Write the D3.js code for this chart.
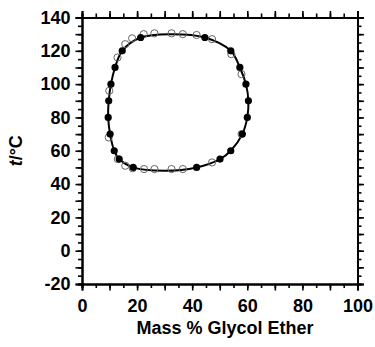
<!DOCTYPE html>
<html>
<head>
<meta charset="utf-8">
<script src="https://cdn.jsdelivr.net/npm/d3@7"></script>
<style>
  html, body { margin: 0; padding: 0; background: #fff; }
  svg { display: block; }
  text { font-family: "Liberation Sans", Arial, sans-serif; font-weight: bold; }
</style>
</head>
<body>
<svg id="chart" width="375" height="347"></svg>
<script>
// Binodal (cloud-point) data: mass % glycol ether vs temperature in °C
const filledMass = [21.3, 14.6, 12.0, 10.5, 9.7, 9.5, 10.2, 11.7, 13.5, 18.6, 41.6, 50.1, 54.0, 58.2, 60.0, 60.4, 59.5, 57.3, 54.0, 44.6];
const filledTemp = [128, 120, 110, 100, 90, 80, 70, 60, 55, 50, 50, 55, 60, 70, 80, 90, 100, 110, 120, 128];

const openMass = [9.9, 12.9, 15.7, 18.2, 22.4, 26.3, 32.5, 36.6, 41.6, 47.2, 54.2, 57.9,
                  9.7, 13.0, 15.7, 18.4, 22.5, 26.3, 32.5, 36.6, 47.2, 57.9];
const openTemp = [96, 116, 124, 127.5, 130, 130.5, 130.5, 130, 129.5, 127, 118, 106,
                  68, 55, 51, 49.5, 49, 49, 49, 49, 53, 70];

// Smoothed coexistence curve, traced around the loop
const curveMass = [9.5, 9.7, 10.5, 12.0, 14.6, 21.3, 32, 44.6, 54.0, 57.3, 59.5, 60.4, 60.0, 58.2, 54.0, 50.1, 41.6, 30, 18.6, 13.5, 11.7, 10.2];
const curveTemp = [80, 90, 100, 110, 120, 128, 130, 128, 120, 110, 100, 90, 80, 70, 60, 55, 50, 48, 50, 55, 60, 70];

const xTicks = [0, 20, 40, 60, 80, 100];
const yTicks = [-20, 0, 20, 40, 60, 80, 100, 120, 140];

const svg = d3.select("#chart");
const plotL = 82, plotR = 357.5, plotT = 17.5, plotB = 284;

const x = d3.scaleLinear().domain([0, 100]).range([plotL, plotR]);
const y = d3.scaleLinear().domain([-20, 140]).range([plotB, plotT]);

const fmtX = d => (xTicks.includes(d) ? String(d) : "");
const fmtY = d => (yTicks.includes(d) ? String(d) : "");

function drawAxis(axisGen, tx, ty) {
  const g = svg.append("g").attr("transform", `translate(${tx},${ty})`).call(axisGen);
  g.select(".domain").attr("stroke", "#000").attr("stroke-width", 2);
  g.selectAll(".tick line").attr("stroke", "#000").attr("stroke-width", 1.6);
  g.selectAll(".tick text").attr("fill", "#000").style("font-size", "18px").style("font-weight", "bold")
    .style("font-family", '"Liberation Sans", Arial, sans-serif');
  // drop empty label nodes so only the drawn labels remain
  g.selectAll(".tick text").filter(function () { return this.textContent === ""; }).remove();
  return g;
}

const xMinor = d3.range(0, 101, 5), xMajor = d3.range(0, 101, 10);
const yMinor = d3.range(-20, 141, 5), yMajor = d3.range(-20, 141, 10);

// minor ticks
drawAxis(d3.axisBottom(x).tickValues(xMinor).tickSize(4).tickFormat(""), 0, plotB);
drawAxis(d3.axisTop(x).tickValues(xMinor).tickSize(4).tickFormat(""), 0, plotT);
drawAxis(d3.axisLeft(y).tickValues(yMinor).tickSize(4).tickFormat(""), plotL, 0);
drawAxis(d3.axisRight(y).tickValues(yMinor).tickSize(4).tickFormat(""), plotR, 0);

// major ticks with labels
drawAxis(d3.axisBottom(x).tickValues(xMajor).tickSize(6.5).tickPadding(9).tickFormat(fmtX), 0, plotB);
drawAxis(d3.axisTop(x).tickValues(xMajor).tickSize(6.5).tickFormat(""), 0, plotT);
drawAxis(d3.axisLeft(y).tickValues(yMajor).tickSize(6.5).tickPadding(5).tickFormat(fmtY), plotL, 0);
drawAxis(d3.axisRight(y).tickValues(yMajor).tickSize(6.5).tickFormat(""), plotR, 0);

// curve
const curvePts = curveMass.map((m, i) => [m, curveTemp[i]]);
svg.append("path")
  .datum(curvePts)
  .attr("fill", "none")
  .attr("stroke", "#000")
  .attr("stroke-width", 2)
  .attr("d", d3.line().x(d => x(d[0])).y(d => y(d[1])).curve(d3.curveCatmullRomClosed.alpha(0.5)));

// open circles
svg.append("g").selectAll("circle")
  .data(openMass.map((m, i) => [m, openTemp[i]]))
  .join("circle")
  .attr("cx", d => x(d[0])).attr("cy", d => y(d[1])).attr("r", 3.6)
  .attr("fill", "none").attr("stroke", "#666").attr("stroke-width", 1);

// filled circles
svg.append("g").selectAll("circle")
  .data(filledMass.map((m, i) => [m, filledTemp[i]]))
  .join("circle")
  .attr("cx", d => x(d[0])).attr("cy", d => y(d[1])).attr("r", 3.6)
  .attr("fill", "#000");

// axis titles
svg.append("text")
  .attr("x", 225).attr("y", 334)
  .attr("text-anchor", "middle")
  .style("font-size", "18px")
  .text("Mass % Glycol Ether");

const yt = svg.append("text")
  .attr("transform", `translate(22,${(plotT + plotB) / 2}) rotate(-90)`)
  .attr("text-anchor", "middle")
  .style("font-size", "18px");
yt.append("tspan").style("font-style", "italic").text("t");
yt.append("tspan").text("/°C");
</script>
</body>
</html>
